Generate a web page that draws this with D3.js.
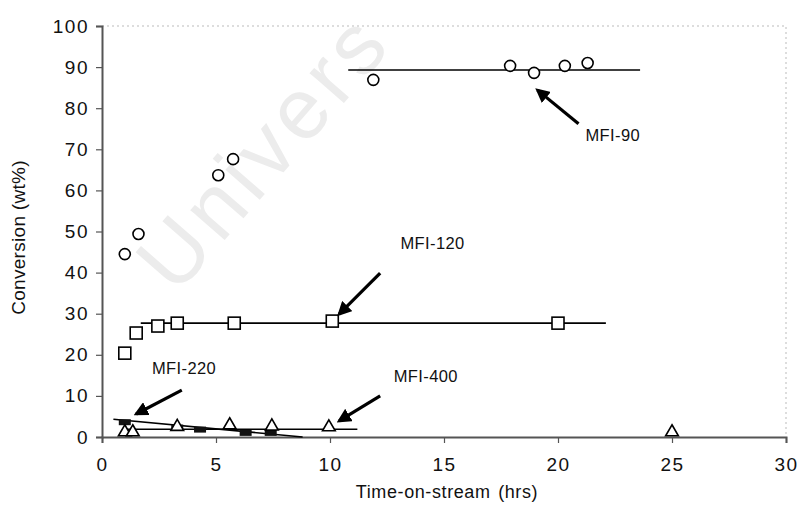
<!DOCTYPE html>
<html>
<head>
<meta charset="utf-8">
<script src="https://cdn.jsdelivr.net/npm/d3@7/dist/d3.min.js"></script>
<style>
  html, body { margin: 0; padding: 0; background: #fff; }
  svg { display: block; font-family: "Liberation Sans", Arial, sans-serif; }
</style>
</head>
<body>
<svg id="chart" width="801" height="510"></svg>
<script>
// Conversion vs time-on-stream for four MFI catalysts
const xTicks = [0, 5, 10, 15, 20, 25, 30];
const yTicks = [0, 10, 20, 30, 40, 50, 60, 70, 80, 90, 100];

// MFI-90 (open circles)
const mfi90Time = [1.0, 1.6, 5.1, 5.75, 11.9, 17.9, 18.95, 20.3, 21.3];
const mfi90Conv = [44.5, 49.4, 63.7, 67.6, 86.9, 90.3, 88.6, 90.3, 91.0];
const mfi90Fit = [[10.8, 89.3], [23.6, 89.3]];

// MFI-120 (open squares)
const mfi120Time = [1.0, 1.5, 2.45, 3.3, 5.8, 10.1, 20.0];
const mfi120Conv = [20.4, 25.3, 27.0, 27.7, 27.7, 28.2, 27.7];
const mfi120Fit = [[1.7, 27.7], [22.1, 27.7]];

// MFI-220 (filled squares)
const mfi220Time = [1.0, 3.3, 4.3, 6.3, 7.4];
const mfi220Conv = [3.6, 2.3, 1.8, 1.0, 1.0];
const mfi220Fit = [[0.5, 4.3], [8.8, 0.0]];

// MFI-400 (open triangles)
const mfi400Time = [1.0, 1.35, 3.3, 5.6, 7.45, 9.95, 25.0];
const mfi400Conv = [1.2, 1.2, 2.5, 2.9, 2.6, 2.4, 1.2];
const mfi400Fit = [[1.0, 1.9], [11.2, 1.9]];

// Callout labels with arrows (data units)
const calloutText = ["MFI-90", "MFI-120", "MFI-220", "MFI-400"];
const calloutLabelAt = [[22.4, 73.0], [14.5, 46.7], [3.6, 16.5], [14.2, 14.4]];
const calloutTail = [[20.9, 76.2], [12.2, 39.9], [3.5, 11.4], [12.2, 10.0]];
const calloutHead = [[19.1, 84.4], [10.4, 29.9], [1.5, 5.6], [10.4, 3.9]];

const svg = d3.select("#chart");
const W = 801, H = 510;
const margin = { left: 102, right: 15, top: 26, bottom: 73 };

const x = d3.scaleLinear().domain([0, 30]).range([margin.left, W - margin.right]);
const y = d3.scaleLinear().domain([0, 100]).range([H - margin.bottom, margin.top]);

svg.append("rect").attr("width", W).attr("height", H).attr("fill", "#fff");

// faint background watermark
svg.append("text")
  .attr("transform", "translate(176,296) rotate(-49)")
  .attr("font-size", 86)
  .attr("fill", "#ececec")
  .attr("letter-spacing", 6)
  .text("Univers");

// light dotted frame on top and right
svg.append("path")
  .attr("d", `M${x(0)},${y(100)}H${x(30)}V${y(0)}`)
  .attr("fill", "none")
  .attr("stroke", "#bbb")
  .attr("stroke-width", 1)
  .attr("stroke-dasharray", "2,3");

// axes
const xAxis = d3.axisBottom(x).tickValues(xTicks).tickSize(6).tickPadding(15);
const yAxis = d3.axisLeft(y).tickValues(yTicks).tickSize(6).tickPadding(7);

const gx = svg.append("g").attr("transform", `translate(0,${y(0)})`).call(xAxis);
const gy = svg.append("g").attr("transform", `translate(${x(0)},0)`).call(yAxis);
[gx, gy].forEach(g => {
  g.select(".domain").attr("stroke", "#555").attr("stroke-width", 2);
  g.selectAll(".tick line").attr("stroke", "#555").attr("stroke-width", 1.2);
  g.selectAll(".tick text").attr("font-size", 19).attr("fill", "#111")
    .attr("letter-spacing", 1.5)
    .attr("font-family", "'Liberation Sans', Arial, sans-serif");
});

// axis titles
svg.append("text")
  .attr("x", (x(0) + x(30)) / 2 + 3).attr("y", 498)
  .attr("text-anchor", "middle").attr("font-size", 18).attr("fill", "#111")
  .attr("letter-spacing", 0.6).attr("word-spacing", 2)
  .text("Time-on-stream (hrs)");
svg.append("text")
  .attr("transform", `translate(25,${(y(0) + y(100)) / 2 + 6}) rotate(-90)`)
  .attr("text-anchor", "middle").attr("font-size", 19).attr("fill", "#111")
  .attr("letter-spacing", 0.3)
  .text("Conversion (wt%)");

// fitted trend lines
const line = d3.line().x(d => x(d[0])).y(d => y(d[1]));
[mfi90Fit, mfi120Fit, mfi400Fit, mfi220Fit].forEach(f => {
  svg.append("path").attr("d", line(f))
    .attr("fill", "none").attr("stroke", "#000").attr("stroke-width", 1.6);
});

const pts = (t, c) => t.map((v, i) => [v, c[i]]);

// MFI-220 filled squares
svg.append("g").selectAll("rect").data(pts(mfi220Time, mfi220Conv)).join("rect")
  .attr("x", d => x(d[0]) - 6).attr("y", d => y(d[1]) - 3)
  .attr("width", 12).attr("height", 6)
  .attr("fill", "#111");

// MFI-90 circles
svg.append("g").selectAll("circle").data(pts(mfi90Time, mfi90Conv)).join("circle")
  .attr("cx", d => x(d[0])).attr("cy", d => y(d[1])).attr("r", 5.5)
  .attr("fill", "#fff").attr("stroke", "#000").attr("stroke-width", 1.6);

// MFI-120 squares
svg.append("g").selectAll("rect").data(pts(mfi120Time, mfi120Conv)).join("rect")
  .attr("x", d => x(d[0]) - 6).attr("y", d => y(d[1]) - 6)
  .attr("width", 12).attr("height", 12)
  .attr("fill", "#fff").attr("stroke", "#000").attr("stroke-width", 1.6);

// MFI-400 triangles
const tri = d3.symbol().type(d3.symbolTriangle).size(70);
svg.append("g").selectAll("path").data(pts(mfi400Time, mfi400Conv)).join("path")
  .attr("transform", d => `translate(${x(d[0])},${y(d[1])})`)
  .attr("d", tri)
  .attr("fill", "#fff").attr("stroke", "#000").attr("stroke-width", 1.6);

// callouts
svg.append("defs").append("marker")
  .attr("id", "head").attr("viewBox", "0 0 10 10")
  .attr("refX", 8).attr("refY", 5)
  .attr("markerWidth", 4.5).attr("markerHeight", 4.5)
  .attr("markerUnits", "strokeWidth")
  .attr("orient", "auto")
  .append("path").attr("d", "M0,0L10,5L0,10z").attr("fill", "#000");

calloutText.forEach((t, i) => {
  const [tx, ty] = calloutTail[i], [hx, hy] = calloutHead[i];
  svg.append("line")
    .attr("x1", x(tx)).attr("y1", y(ty)).attr("x2", x(hx)).attr("y2", y(hy))
    .attr("stroke", "#000").attr("stroke-width", 3.2)
    .attr("marker-end", "url(#head)");
  svg.append("text")
    .attr("x", x(calloutLabelAt[i][0])).attr("y", y(calloutLabelAt[i][1]))
    .attr("text-anchor", "middle").attr("dominant-baseline", "middle")
    .attr("font-size", 16.5).attr("letter-spacing", 0.4).attr("fill", "#111")
    .text(t);
});
</script>
</body>
</html>
